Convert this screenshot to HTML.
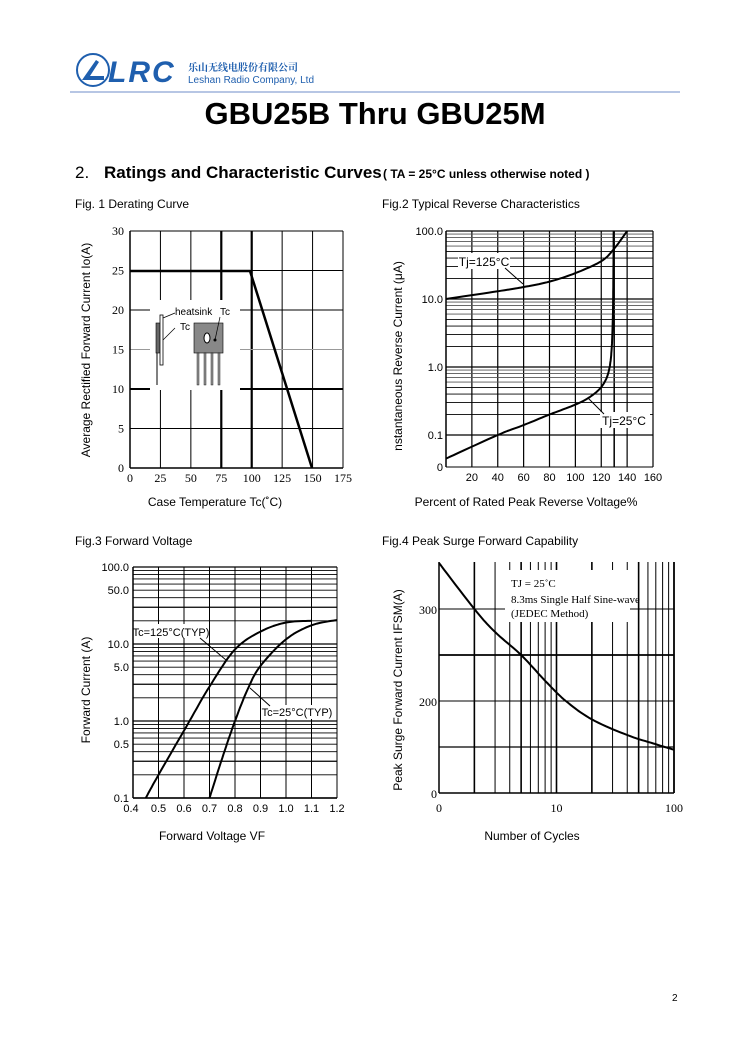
<!DOCTYPE html>
<html><head><meta charset="utf-8"><style>
body{margin:0;background:#fff;width:750px;height:1061px;overflow:hidden;font-family:"Liberation Sans",sans-serif}
svg{position:absolute;left:0;top:0}
</style></head><body>
<svg id="s" width="750" height="1061" xmlns="http://www.w3.org/2000/svg" font-family="Liberation Sans, sans-serif">
<circle cx="93" cy="70" r="16" fill="none" stroke="#1f5fae" stroke-width="2"/>
<path d="M82 80 L96 60 L99 62 L90 76 L104 76 L104 80 Z" fill="#1f5fae"/>
<text x="108" y="82" font-size="30" font-weight="bold" font-style="italic" fill="#1f5fae" letter-spacing="2">LRC</text>
<text x="188" y="71" font-size="10" fill="#1f5fae" font-family="Noto Serif CJK SC, serif" font-weight="bold">乐山无线电股份有限公司</text>
<text x="188" y="83" font-size="10" fill="#1f5fae">Leshan Radio Company, Ltd</text>
<line x1="70" y1="92" x2="680" y2="92" stroke="#9fb4dc" stroke-width="1.5"/>
<text x="375" y="124" font-size="31" font-weight="bold" text-anchor="middle">GBU25B Thru GBU25M</text>
<text x="75" y="178" font-size="17">2.</text>
<text x="104" y="178" font-size="17" font-weight="bold">Ratings and Characteristic Curves</text>
<text x="383" y="178" font-size="12" font-weight="bold">( TA = 25°C unless otherwise noted )</text>
<text x="75" y="208" font-size="12">Fig. 1 Derating Curve</text>
<text x="382" y="208" font-size="12">Fig.2    Typical Reverse Characteristics</text>
<text x="75" y="545" font-size="12">Fig.3    Forward Voltage</text>
<text x="382" y="545" font-size="12">Fig.4    Peak Surge Forward Capability</text>
<text x="215" y="506" font-size="12" text-anchor="middle">Case Temperature Tc(˚C)</text>
<text x="526" y="506" font-size="12" text-anchor="middle">Percent of Rated Peak Reverse Voltage%</text>
<text x="212" y="840" font-size="12" text-anchor="middle">Forward Voltage VF</text>
<text x="532" y="840" font-size="12" text-anchor="middle">Number of Cycles</text>
<text transform="translate(90,350) rotate(-90)" font-size="12" text-anchor="middle">Average Rectified Forward Current Io(A)</text>
<text transform="translate(402,356) rotate(-90)" font-size="12" text-anchor="middle">nstantaneous Reverse Current (μA)</text>
<text transform="translate(90,690) rotate(-90)" font-size="12" text-anchor="middle">Forward Current (A)</text>
<text transform="translate(402,690) rotate(-90)" font-size="12" text-anchor="middle">Peak Surge Forward Current IFSM(A)</text>
<text x="672" y="1001" font-size="10">2</text>
<g id="g"></g>
</svg>
<script>
var g=document.getElementById('g'),h='';
function L(x1,y1,x2,y2,w,c){h+='<line x1="'+x1+'" y1="'+y1+'" x2="'+x2+'" y2="'+y2+'" stroke="'+(c||'#000')+'" stroke-width="'+w+'"/>';}
function T(x,y,t,s,a,f){h+='<text x="'+x+'" y="'+y+'" font-size="'+s+'" text-anchor="'+(a||'middle')+'"'+(f?' font-family="Liberation Serif, serif"':'')+'>'+t+'</text>';}
function P(pts,w){h+='<path d="M'+pts.map(p=>p[0].toFixed(1)+' '+p[1].toFixed(1)).join(' L')+'" fill="none" stroke="#000" stroke-width="'+(w||2)+'" stroke-linejoin="round"/>';}
function sm(pts){
 var o=[];for(var i=0;i<pts.length-1;i++){var p0=pts[Math.max(i-1,0)],p1=pts[i],p2=pts[i+1],p3=pts[Math.min(i+2,pts.length-1)];
 for(var t=0;t<1;t+=0.1){var t2=t*t,t3=t2*t;var f=k=>0.5*(2*p1[k]+(-p0[k]+p2[k])*t+(2*p0[k]-5*p1[k]+4*p2[k]-p3[k])*t2+(-p0[k]+3*p1[k]-3*p2[k]+p3[k])*t3);o.push([f(0),f(1)]);}}
 o.push(pts[pts.length-1]);return o;}
// Fig1
var x0=130,x1=343,y0=231,y1=468;
for(var i=0;i<=7;i++){var x=x0+i*(x1-x0)/7;L(x,y0,x,y1,(i==3||i==4)?2.2:1);T(x,482,[0,25,50,75,100,125,150,175][i],12,'middle',1);}
for(var i=0;i<=6;i++){var y=y1-i*(y1-y0)/6;L(x0,y,x1,y,(i==2)?2:1,i==3?'#999':'#000');T(124,y+4,i*5,12,'end',1);}
L(x0,y0,x0,y1,1.5);L(x0,y1,x1,y1,1.5);
h+='<rect x="150" y="300" width="90" height="90" fill="#fff"/>';
h+='<rect x="156" y="323" width="5" height="30" fill="#666" stroke="#000" stroke-width=".6"/><rect x="160" y="315" width="3" height="50" fill="#fff" stroke="#000" stroke-width=".8"/><line x1="157" y1="353" x2="157" y2="385" stroke="#000"/>';
h+='<rect x="194" y="323" width="29" height="30" fill="#888" stroke="#000" stroke-width=".6"/><ellipse cx="207" cy="338" rx="3" ry="5" fill="#fff" stroke="#000"/><circle cx="215" cy="340" r="1.5"/>';
for(var k=0;k<4;k++)h+='<rect x="'+(197+k*7)+'" y="353" width="2" height="32" fill="#999" stroke="#000" stroke-width=".4"/>';
h+='<text x="175" y="315" font-size="10">heatsink</text><text x="180" y="330" font-size="10">Tc</text><text x="220" y="315" font-size="10">Tc</text>';
L(163,318,175,313,.7);L(163,340,175,328,.7);L(215,340,220,317,.7);
P([[130,271],[250,271],[312,468]],2.5);
// Fig2
var a0=446,a1=653;
var vx=v=>a0+v*(a1-a0)/160, ly=v=>435-Math.log10(v/0.1)*68;
for(var i=1;i<=8;i++){var x=vx(i*20);L(x,231,x,467,1.2);if(i<8)T(x,481,i*20,11);}T(a1,481,160,11);
L(vx(130),231,vx(130),467,1.5);
for(var d=0.1;d<=10;d*=10)for(var m=1;m<=9;m++){var y=ly(d*m);L(a0,y,a1,y,m==1?1.3:.9,m>5?'#555':'#000');}
L(a0,231,a1,231,1.3);L(a0,467,a1,467,1);L(a0,231,a0,467,1.5);L(a1,231,a1,467,1);
[['100.0',231],['10.0',299],['1.0',367],['0.1',435],['0',467]].forEach(t=>T(443,t[1]+4,t[0],11,'end'));
P(sm([[0,10],[40,13],[60,15],[80,18],[100,24],[120,36],[130,55],[140,100]].map(p=>[vx(p[0]),ly(p[1])])));
P(sm([[0,0.045],[40,0.1],[60,0.14],[80,0.2],[100,0.28],[110,0.35],[118,0.46],[123,0.62],[126,0.9],[127.8,1.6],[128.8,4],[129.3,15],[129.6,100]].map(p=>[vx(p[0]),ly(p[1])])));
h+='<rect x="458" y="253" width="52" height="16" fill="#fff"/>';T(484,266,'Tj=125°C',12);L(505,268,523,284,1);
h+='<rect x="600" y="412" width="50" height="16" fill="#fff"/>';T(624,425,'Tj=25°C',12);L(588,398,604,414,1);
// Fig3
var b0=133,b1=337,vx3=v=>b0+(v-0.4)*(b1-b0)/0.8,ly3=v=>798-(Math.log10(v)+1)*77;
for(var i=0;i<=8;i++){var x=vx3(0.4+i*0.1);L(x,567,x,798,1);T(x+(i==0?-2:0),812,(0.4+i*0.1).toFixed(1),11);}
for(var d=0.1;d<=10;d*=10)for(var m=1;m<=9;m++){var y=ly3(d*m);L(b0,y,b1,y,(m==1||m==3)?1.3:.9);}
L(b0,567,b1,567,1.3);L(b0,567,b0,798,1.5);L(b0,798,b1,798,1.5);
[['100.0',100],['50.0',50],['10.0',10],['5.0',5],['1.0',1],['0.5',0.5],['0.1',0.1]].forEach(t=>T(129,ly3(t[1])+4,t[0],11,'end'));
P(sm([[0.45,0.1],[0.5,0.2],[0.6,0.75],[0.7,2.8],[0.8,8.5],[0.9,14.5],[1.0,19],[1.1,20]].map(p=>[vx3(p[0]),ly3(p[1])])));
P(sm([[0.7,0.1],[0.75,0.33],[0.8,1.0],[0.85,2.6],[0.9,5.2],[1.0,11.5],[1.1,17.5],[1.2,20.5]].map(p=>[vx3(p[0]),ly3(p[1])])));
h+='<rect x="138" y="624" width="66" height="14" fill="#fff"/>';T(171,636,'Tc=125°C(TYP)',11);L(200,638,226,660,1);
h+='<rect x="265" y="705" width="62" height="14" fill="#fff"/>';T(297,716,'Tc=25°C(TYP)',11);L(250,688,270,706,1);
// Fig4
var c0=439,c1=674,lx=v=>c0+Math.log10(v)*117.5,ly4=v=>793-(v-100)*0.92;
for(var d=1;d<=10;d*=10)for(var m=2;m<=10;m++){var x=lx(d*m);L(x,562,x,793,(m==2||m==5||m==10)?1.6:1);}
[[300,1],[250,1.8],[200,1],[150,1.2]].forEach(t=>L(c0,ly4(t[0]),c1,ly4(t[0]),t[1]));
L(c0,562,c0,793,1.5);L(c0,793,c1,793,1.5);L(c1,562,c1,793,1.5);
h+='<rect x="505" y="570" width="125" height="52" fill="#fff"/>';
h+='<text x="511" y="587" font-size="11" font-family="Liberation Serif, serif">TJ = 25˚C</text><text x="511" y="603" font-size="11" font-family="Liberation Serif, serif">8.3ms Single Half Sine-wave</text><text x="511" y="617" font-size="11" font-family="Liberation Serif, serif">(JEDEC Method)</text>';
T(437,614,'300',12,'end',1);T(437,706,'200',12,'end',1);T(437,798,'0',12,'end',1);
T(439,812,'0',12,'middle',1);T(lx(10),812,'10',12,'middle',1);T(lx(100),812,'100',12,'middle',1);
P(sm([[1,350],[2,300],[3,275],[5,250],[8,222],[12,200],[20,180],[40,163],[70,153],[100,147]].map(p=>[lx(p[0]),ly4(p[1])])));
g.innerHTML=h;
</script>
</body></html>
